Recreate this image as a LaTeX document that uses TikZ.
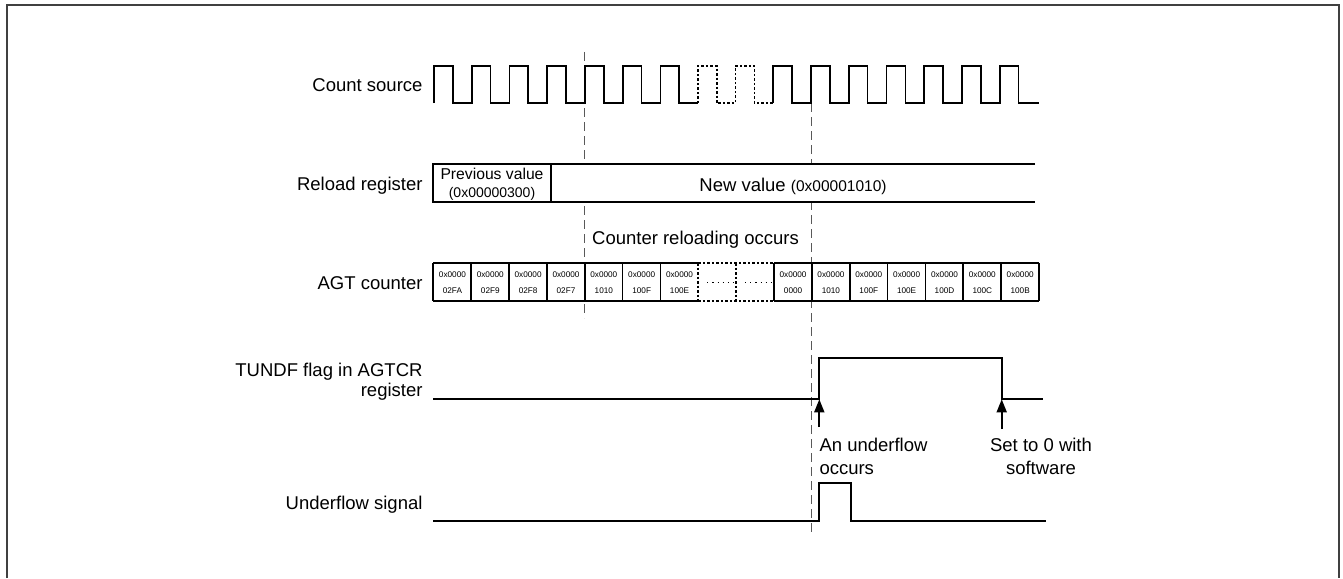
\documentclass[tikz,border=0pt]{standalone}
\usepackage{fontspec}
\setmainfont{Liberation Sans}
\usetikzlibrary{arrows.meta}
\begin{document}
\begin{tikzpicture}[x=1pt,y=-1pt,
  wave/.style={line width=1.7pt,black},
  dotwave/.style={line width=1.7pt,black,dash pattern=on 2.5pt off 2pt},
  guide/.style={line width=1pt,black!65,dash pattern=on 9pt off 5pt},
  frameline/.style={line width=1.6pt,black!75},
  lbl/.style={font=\fontsize{18.5}{22}\selectfont,inner sep=0pt},
  cell/.style={fill=white,inner sep=0pt,minimum width=37.85pt,minimum height=37.7pt,align=center,font=\fontsize{8.2}{16}\selectfont},
  solidline/.style={line width=1.7pt,black},
  dotline/.style={line width=1.7pt,black,dash pattern=on 2.5pt off 2pt},
  midots/.style={line width=1.1pt,black,dash pattern=on 1.1pt off 4pt},
  arr/.style={line width=1.7pt,-{Triangle[length=13pt,width=10pt]}}
]
\useasboundingbox (0,0) rectangle (1343,578);
% frame
\draw[frameline] (6.7,578) -- (6.7,5) -- (1339,5) -- (1339,578);

% guide lines
\coordinate (g1t) at (584.5,52);
\coordinate (g1b) at (584.5,318);
\coordinate (g2t) at (811.5,103);
\coordinate (g2b) at (811.5,533);
\draw[guide] (g1t) -- (g1b);
\draw[guide] (g2t) -- (g2b);

% labels
\node[lbl,anchor=base east] (lcs) at (422.7,91.7) {Count source};
\node[lbl,anchor=base east] (lrr) at (422.7,190.5) {Reload register};
\node[lbl,anchor=base east] (lagt) at (422.7,289.5) {AGT counter};
\node[lbl,anchor=base east] (ltf1) at (422.7,376) {TUNDF flag in AGTCR};
\node[lbl,anchor=base east] (ltf2) at (422.7,396) {register};
\node[lbl,anchor=base east] (luf) at (422.7,509.5) {Underflow signal};

% count source
\draw[wave] (434,103) \foreach \k in {0,...,6} { -- ++(0,-37) -- ++(18.865,0) -- ++(0,37) -- ++(18.865,0) };
\draw[dotwave] (697.8,103) \foreach \k in {0,1} { -- ++(0,-37) -- ++(18.865,0) -- ++(0,37) -- ++(18.865,0) };
\draw[wave] (773.3,103) \foreach \k in {0,...,5} { -- ++(0,-37) -- ++(18.865,0) -- ++(0,37) -- ++(18.865,0) } -- ++(0,-37) -- ++(18.865,0) -- ++(0,37) -- (1039,103);

% reload register
\fill[white] (433.3,164.3) rectangle (1035,202.3);
\draw[solidline] (1035,164.3) -- (433.3,164.3) -- (433.3,202.3) -- (1035,202.3);
\draw[solidline] (550.7,164.3) -- (550.7,202.3);
\node[inner sep=0pt,anchor=base,font=\fontsize{15.7}{18}\selectfont] (prev1) at (492,179.6) {Previous value};
\node[inner sep=0pt,anchor=base,font=\fontsize{14}{16}\selectfont] (prev2) at (492,197) {(0x00000300)};
\node[inner sep=0pt,anchor=base] (newv) at (793,191) {\fontsize{18.5}{22}\selectfont New value \fontsize{15.5}{18}\selectfont(0x00001010)};

\node[lbl,anchor=base] (reload) at (695.5,244.5) {Counter reloading occurs};

% AGT counter cells
\node[cell] (c1) at (452.43,282.2) {0x0000\\02FA};
\node[cell] (c2) at (490.28,282.2) {0x0000\\02F9};
\node[cell] (c3) at (528.13,282.2) {0x0000\\02F8};
\node[cell] (c4) at (565.98,282.2) {0x0000\\02F7};
\node[cell] (c5) at (603.83,282.2) {0x0000\\1010};
\node[cell] (c6) at (641.68,282.2) {0x0000\\100F};
\node[cell] (c7) at (679.53,282.2) {0x0000\\100E};
\node[cell] (c8) at (717.38,282.2) {};
\node[cell] (c9) at (755.23,282.2) {};
\node[cell] (c10) at (793.08,282.2) {0x0000\\0000};
\node[cell] (c11) at (830.93,282.2) {0x0000\\1010};
\node[cell] (c12) at (868.78,282.2) {0x0000\\100F};
\node[cell] (c13) at (906.63,282.2) {0x0000\\100E};
\node[cell] (c14) at (944.48,282.2) {0x0000\\100D};
\node[cell] (c15) at (982.33,282.2) {0x0000\\100C};
\node[cell] (c16) at (1020.18,282.2) {0x0000\\100B};
\draw[solidline] (c1.north west) -- (c8.north west) (c1.south west) -- (c8.south west)
  (c10.north west) -- (c16.north east) (c10.south west) -- (c16.south east)
  (c16.north east) -- (c16.south east);
\foreach \i in {1,...,7,10,11,...,16} \draw[solidline] (c\i.north west) -- (c\i.south west);
\draw[dotline] (c8.north west) -- (c10.north west) (c8.south west) -- (c10.south west)
  (c8.north west) -- (c8.south west) (c9.north west) -- (c9.south west);
\draw[midots] ([xshift=8pt]c8.center) ++(-18pt,0) -- ++(29pt,0);
\draw[midots] ([xshift=8pt]c9.center) ++(-18pt,0) -- ++(29pt,0);

% TUNDF flag
\coordinate (t0) at (433.3,399.3);
\coordinate (tr) at (819.3,399.3);
\coordinate (th1) at (819.3,358);
\coordinate (th2) at (1001.7,358);
\coordinate (tf) at (1001.7,399.3);
\coordinate (t9) at (1043,399.3);
\draw[wave] (t0) -- (tr) -- (th1) -- (th2) -- (tf) -- (t9);

% arrows and notes
\coordinate (a1) at (819.3,427);
\coordinate (a2) at (1001.7,429);
\draw[arr] (a1) -- (tr);
\draw[arr] (a2) -- (tf);
\node[lbl,anchor=base west] (n1a) at (819.3,451.7) {An underflow};
\node[lbl,anchor=base west] (n1b) at (819.3,474) {occurs};
\node[lbl,anchor=base] (n2a) at (1041,451.7) {Set to 0 with};
\node[lbl,anchor=base] (n2b) at (1041,474) {software};

% underflow signal
\coordinate (u0) at (433.3,520.7);
\coordinate (ur) at (819.3,520.7);
\coordinate (uh1) at (819.3,482.7);
\coordinate (uh2) at (851,482.7);
\coordinate (uf) at (851,520.7);
\coordinate (u9) at (1045.7,520.7);
\draw[wave] (u0) -- (ur) -- (uh1) -- (uh2) -- (uf) -- (u9);
\end{tikzpicture}
\end{document}
